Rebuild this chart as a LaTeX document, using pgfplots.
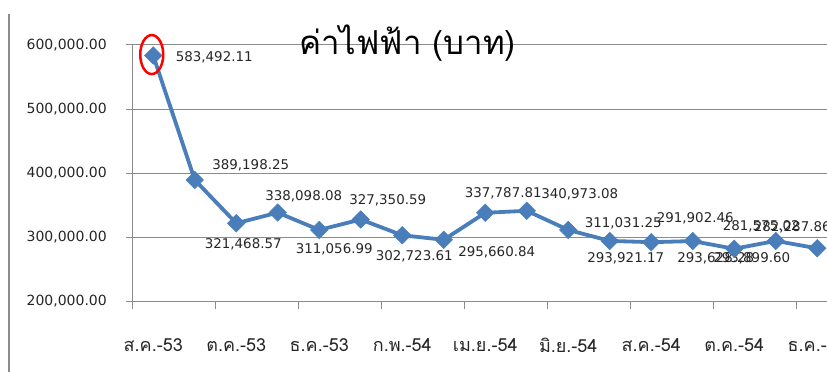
\documentclass[border=0pt]{standalone}
\usepackage{pgfplots}
\pgfplotsset{compat=1.18}
\usepackage{fontspec}
\setmainfont{DejaVu Sans}
\newfontfamily\thaifont[Script=Thai]{Loma}
\definecolor{serblue}{HTML}{4A7EBB}
\definecolor{gridgray}{HTML}{8C8C8C}
\pgfplotstableread{
x y
0 583492.11
1 389198.25
2 321468.57
3 338098.08
4 311056.99
5 327350.59
6 302723.61
7 295660.84
8 337787.81
9 340973.08
10 311031.25
11 293921.17
12 291902.46
13 293628.28
14 281575.02
15 293899.60
16 282287.86
}\datatable
\tikzset{lbl/.style={font=\fontsize{13.4bp}{15bp}\selectfont, text=black!85, inner sep=0pt, anchor=center}}
\begin{document}
\begin{tikzpicture}
\useasboundingbox (-132.5bp,-71bp) rectangle (694.5bp,301bp);
\clip (-132.5bp,-71bp) rectangle (694.5bp,301bp);
\draw[gridgray, line width=2bp] (-123.5bp,-71bp) -- (-123.5bp,287bp);
\begin{axis}[
  scale only axis, width=694.5bp, height=256bp,
  at={(0,0)}, anchor=south west,
  xmin=-0.5, xmax=16.235, ymin=200000, ymax=600000,
  clip=false, scaled y ticks=false,
  axis x line*=bottom, axis y line*=left,
  axis line style={gridgray, line width=1bp},
  ytick={200000,300000,400000,500000,600000},
  yticklabels={{200,000.00},{300,000.00},{400,000.00},{500,000.00},{600,000.00}},
  ymajorgrids, grid style={gridgray, line width=1bp},
  tick align=outside, major tick length=6bp, minor tick length=8bp,
  tick style={gridgray, line width=1bp},
  xtick={0,2,...,16},
  xticklabels={ส.ค.-53, ต.ค.-53, ธ.ค.-53, ก.พ.-54, เม.ย.-54, มิ.ย.-54, ส.ค.-54, ต.ค.-54, ธ.ค.-54},
  major x tick style={draw=none},
  minor xtick={-0.5,1.5,...,15.5},
  xticklabel style={font=\thaifont\fontsize{18bp}{20bp}\selectfont, text=black!85, anchor=center, inner sep=0pt, yshift=-38bp},
  yticklabel style={font=\fontsize{14bp}{16bp}\selectfont, text=black!85, anchor=east, inner sep=0pt, xshift=-19.5bp},
]
\addplot[serblue, line width=3.8bp, mark=square*, mark size=6.2bp,
  mark options={rotate=45, fill=serblue, draw=serblue, line width=0.5bp}] table[x=x,y=y] {\datatable};
\draw[red, line width=2.5bp] (axis cs:0,583492.11) ++(-1.5bp,1bp) ellipse [x radius=11.5bp, y radius=19.5bp];
\node[lbl, xshift=61bp, yshift=-1.4bp] at (axis cs:0,583492.11) {583,492.11};
\node[lbl, xshift=56bp, yshift=15bp] at (axis cs:1,389198.25) {389,198.25};
\node[lbl, xshift=7bp, yshift=-21bp] at (axis cs:2,321468.57) {321,468.57};
\node[lbl, xshift=26bp, yshift=16bp] at (axis cs:3,338098.08) {338,098.08};
\node[lbl, xshift=15bp, yshift=-19bp] at (axis cs:4,311056.99) {311,056.99};
\node[lbl, xshift=27bp, yshift=19.5bp] at (axis cs:5,327350.59) {327,350.59};
\node[lbl, xshift=12bp, yshift=-21bp] at (axis cs:6,302723.61) {302,723.61};
\node[lbl, xshift=53bp, yshift=-13bp] at (axis cs:7,295660.84) {295,660.84};
\node[lbl, xshift=18bp, yshift=20bp] at (axis cs:8,337787.81) {337,787.81};
\node[lbl, xshift=53bp, yshift=16bp] at (axis cs:9,340973.08) {340,973.08};
\node[lbl, xshift=55bp, yshift=7bp] at (axis cs:10,311031.25) {311,031.25};
\node[lbl, xshift=16bp, yshift=-17bp] at (axis cs:11,293921.17) {293,921.17};
\node[lbl, xshift=44bp, yshift=24bp] at (axis cs:12,291902.46) {291,902.46};
\node[lbl, xshift=23bp, yshift=-17bp] at (axis cs:13,293628.28) {293,628.28};
\node[lbl, xshift=27bp, yshift=22bp] at (axis cs:14,281575.02) {281,575.02};
\node[lbl, xshift=-24bp, yshift=-17bp] at (axis cs:15,293899.60) {293,899.60};
\node[lbl, xshift=-25bp, yshift=21bp] at (axis cs:16,282287.86) {282,287.86};
\end{axis}
\node[font=\thaifont\fontsize{33bp}{35bp}\selectfont, inner sep=0pt] at (275bp,258bp) {ค่าไฟฟ้า (บาท)};
\end{tikzpicture}
\end{document}
